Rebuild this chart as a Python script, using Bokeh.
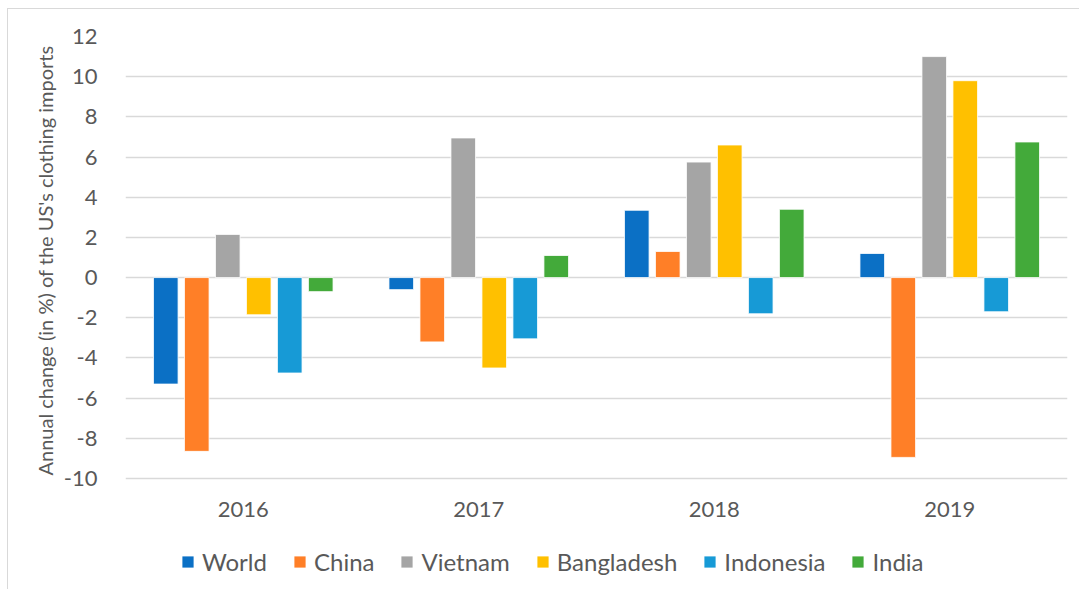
from bokeh.plotting import figure
from bokeh.models import (ColumnDataSource, Range1d, FactorRange, FixedTicker, Legend,
                          LegendItem, Title)
from bokeh.transform import dodge
from bokeh.embed import file_html
from bokeh.resources import INLINE

years = ["2016", "2017", "2018", "2019"]
series = ["World", "China", "Vietnam", "Bangladesh", "Indonesia", "India"]
world = [-5.3, -0.6, 3.35, 1.2]
china = [-8.65, -3.2, 1.3, -8.95]
vietnam = [2.15, 6.95, 5.75, 11.0]
bangladesh = [-1.85, -4.5, 6.6, 9.8]
indonesia = [-4.75, -3.05, -1.8, -1.7]
india = [-0.7, 1.1, 3.4, 6.75]
y_ticks = [-10, -8, -6, -4, -2, 0, 2, 4, 6, 8, 10, 12]
y_title = "Annual change (in %) of the US's clothing imports"

colors = ["#0B70C5", "#FF7F27", "#A5A5A5", "#FFC000", "#179AD6", "#43AA3A"]
values = [world, china, vietnam, bangladesh, indonesia, india]

data = {"year": years}
for name, vals in zip(series, values):
    data[name] = vals
source = ColumnDataSource(data)

FONT = "Lato"
TXT = "#595959"

# frame extends below the -10 line to host the category labels and legend
p = figure(x_range=FactorRange(*years, range_padding=0),
           y_range=Range1d(-15.575, 12),
           width=1072, height=581,
           output_backend="svg", toolbar_location=None,
           min_border_left=117, min_border_right=13, min_border_top=27,
           min_border_bottom=0,
           styles={"position": "relative", "left": "8px", "top": "9px",
                   "box-shadow": "-1px -1px 0 0 #d9d9d9"})

p.outline_line_color = None
p.background_fill_color = "white"
p.border_fill_color = "white"

pitch = 0.1316
bar_w = 0.1045
items = []
for i, (name, col) in enumerate(zip(series, colors)):
    r = p.vbar(x=dodge("year", (i - 2.5) * pitch, range=p.x_range), top=name, bottom=0,
               width=bar_w, source=source, fill_color=col, line_color="white", line_width=0.8)
    items.append(LegendItem(label=name, renderers=[r]))

# grid
p.xgrid.grid_line_color = None
p.ygrid.grid_line_color = "#d9d9d9"
p.ygrid.grid_line_width = 1.3
p.ygrid.ticker = FixedTicker(ticks=y_ticks)

# y axis
ya = p.yaxis[0]
ya.ticker = FixedTicker(ticks=y_ticks)
ya.major_label_overrides = {t: str(t) for t in y_ticks}
ya.axis_line_color = None
ya.major_tick_line_color = None
ya.minor_tick_line_color = None
ya.major_label_standoff = 22
ya.major_label_text_font = FONT
ya.major_label_text_font_size = "22px"
ya.major_label_text_color = TXT

ytitle = Title(text=y_title, align="left", offset=115, standoff=8,
               text_font=FONT, text_font_size="20px", text_font_style="normal",
               text_color=TXT)
p.add_layout(ytitle, "left")

# x axis drawn at the -10 line
xa = p.xaxis[0]
xa.fixed_location = -10
xa.axis_line_color = None
xa.major_tick_line_color = None
xa.minor_tick_line_color = None
xa.major_label_standoff = 18
xa.major_label_text_font = FONT
xa.major_label_text_font_size = "22px"
xa.major_label_text_color = TXT

legend = Legend(items=items, orientation="horizontal", location=(55, 14),
                glyph_width=15, glyph_height=15, label_standoff=7, spacing=25,
                padding=0, margin=0, border_line_color=None, background_fill_alpha=0,
                label_text_font=FONT, label_text_font_size="24px", label_text_color=TXT)
p.add_layout(legend, "center")

open("out.html", "w").write(file_html(p, INLINE))
